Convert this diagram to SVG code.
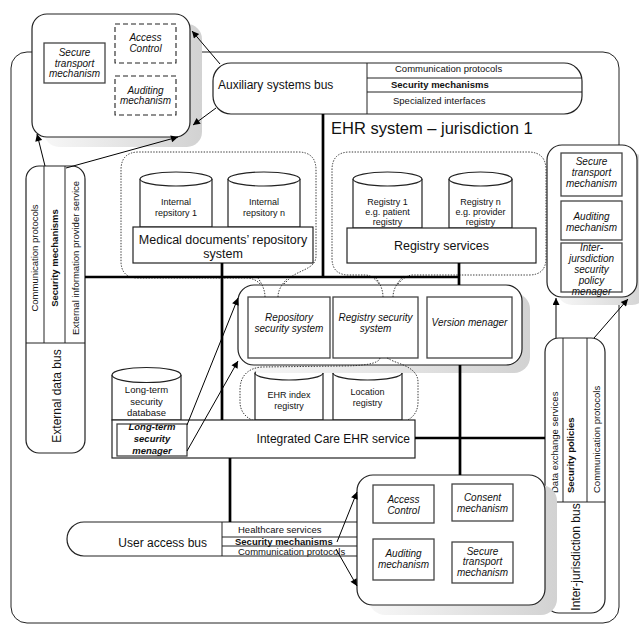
<svg xmlns="http://www.w3.org/2000/svg" width="639" height="626" viewBox="0 0 639 626">
<style>
.f{font-family:"Liberation Sans",Arial,sans-serif;fill:#111}
.s{font-size:9.5px}
.c{font-size:9px}
.m{font-size:12px}
.i{font-style:italic;font-size:10px}
.bd{font-weight:bold}
.mid{text-anchor:middle}
.box{fill:#fff;stroke:#222;stroke-width:1.2}
.ibox{fill:#fff;stroke:#444;stroke-width:1.3}
.dash{fill:#fff;stroke:#222;stroke-width:1.1;stroke-dasharray:5 3}
.ln{fill:none;stroke:#222;stroke-width:1}
.dot{fill:none;stroke:#222;stroke-width:0.9;stroke-dasharray:1.4 1.4}
.thick{fill:none;stroke:#000;stroke-width:2.7}
.arr{fill:none;stroke:#000;stroke-width:1;marker-end:url(#ah)}
.sh{fill:url(#shg)}
</style>
<defs>
<linearGradient id="shg" x1="0" y1="0" x2="1" y2="0">
<stop offset="0" stop-color="#f7f7f7"/><stop offset="1" stop-color="#d2d2d2"/>
</linearGradient>
<marker id="ah" viewBox="0 0 10 10" refX="10" refY="5" markerWidth="9" markerHeight="7" markerUnits="userSpaceOnUse" orient="auto">
<path d="M0,0 L10,5 L0,10 z" fill="#000"/>
</marker>
</defs>
<rect width="639" height="626" fill="#fff"/>

<g id="ehr-system-frame">
<rect x="11" y="52" width="608" height="571" rx="16" class="ln" stroke-width="1.2"/>
<text x="331" y="134" class="f" font-size="16.5px">EHR system – jurisdiction 1</text>
</g>

<g id="aux-security-box">
<rect x="44" y="24" width="158" height="123" rx="15" class="sh"/>
<rect x="32" y="14" width="158" height="123" rx="15" class="box"/>
<rect x="44" y="43" width="61" height="40" class="ibox" stroke="#666"/>
<text class="f i mid" x="74.5" y="56">Secure</text>
<text class="f i mid" x="74.5" y="66.5">transport</text>
<text class="f i mid" x="74.5" y="77">mechanism</text>
<rect x="115" y="24" width="61" height="39" class="dash"/>
<text class="f i mid" x="145.5" y="41">Access</text>
<text class="f i mid" x="145.5" y="52">Control</text>
<rect x="115" y="76" width="61" height="39" class="dash"/>
<text class="f i mid" x="145.5" y="93.5">Auditing</text>
<text class="f i mid" x="145.5" y="104">mechanism</text>
</g>

<g id="auxiliary-systems-bus">
<rect x="213" y="63" width="369" height="51" rx="18" class="box"/>
<path d="M367,63 V114 M367,78 H582 M367,92 H582" class="ln"/>
<text class="f m" x="218" y="88.5">Auxiliary systems bus</text>
<text class="f s" x="395" y="71.5">Communication protocols</text>
<text class="f s bd" x="391" y="87.5">Security mechanisms</text>
<text class="f s" x="393" y="103.5">Specialized interfaces</text>
</g>

<g id="external-data-bus">
<rect x="26" y="166" width="59" height="287" rx="13" class="box"/>
<path d="M44,166 V343 M65,166 V343 M26,343 H85" class="ln"/>
<text class="f s mid" transform="translate(38,258) rotate(-90)">Communication protocols</text>
<text class="f s bd mid" transform="translate(58,258) rotate(-90)">Security mechanisms</text>
<text class="f s mid" transform="translate(79,258) rotate(-90)">External information provider service</text>
<text class="f mid m" transform="translate(61,396) rotate(-90)">External data bus</text>
</g>

<g id="medical-repository">
<path class="dot" d="M265,297 C265,287 258,279 248,278 L138,278 Q121,278 121,261 L121,170 Q121,152 139,152 L298,152 Q316,152 316,170 L316,256 C316,270 296,270 288,280 C282,286 278,290 278,297"/>
<path class="box" d="M140,179 V227 H212 V179"/>
<ellipse cx="176" cy="179" rx="36" ry="7" class="box"/>
<text class="f c mid" x="176" y="205">Internal</text>
<text class="f c mid" x="176" y="215.5">repsitory 1</text>
<path class="box" d="M228,179 V227 H300 V179"/>
<ellipse cx="264" cy="179" rx="36" ry="7" class="box"/>
<text class="f c mid" x="264" y="205">Internal</text>
<text class="f c mid" x="264" y="215.5">repsitory n</text>
<rect x="133" y="227" width="180" height="36" class="box"/>
<text class="f mid" font-size="12.5px" x="223" y="243.5">Medical documents’ repository</text>
<text class="f mid" font-size="12.5px" x="223" y="258">system</text>
</g>

<g id="registry-services">
<path class="dot" d="M383,297 C383,288 376,276 366,275 L349,275 Q332,275 332,258 L332,170 Q332,152 350,152 L528,152 Q546,152 546,170 L546,258 Q546,275 529,275 L412,275 C403,276 394,286 393,297"/>
<path class="box" d="M353,179 V228 H422 V179"/>
<ellipse cx="387.5" cy="179" rx="34.5" ry="7" class="box"/>
<text class="f c mid" x="387.5" y="205">Registry 1</text>
<text class="f c mid" x="387.5" y="215">e.g. patient</text>
<text class="f c mid" x="387.5" y="225">registry</text>
<path class="box" d="M449,179 V228 H512 V179"/>
<ellipse cx="480.5" cy="179" rx="31.5" ry="7" class="box"/>
<text class="f c mid" x="480.5" y="205">Registry n</text>
<text class="f c mid" x="480.5" y="215">e.g. provider</text>
<text class="f c mid" x="480.5" y="225">registry</text>
<rect x="347" y="228" width="189" height="35" class="box"/>
<text class="f mid" font-size="12.5px" x="441.5" y="250">Registry services</text>
</g>

<g id="index-registries">
<path class="box" d="M255,373 V420 H323 V373"/>
<ellipse cx="289" cy="373" rx="34" ry="7" class="box"/>
<text class="f c mid" x="289" y="398">EHR index</text>
<text class="f c mid" x="289" y="409">registry</text>
<path class="box" d="M333,373 V420 H402 V373"/>
<ellipse cx="367.5" cy="373" rx="34.5" ry="7" class="box"/>
<text class="f c mid" x="367.5" y="395">Location</text>
<text class="f c mid" x="367.5" y="406">registry</text>
</g>

<g id="security-systems">
<rect x="246" y="293" width="284" height="80" rx="16" class="sh"/>
<rect x="238" y="285" width="284" height="80" rx="16" class="box"/>
<rect x="248" y="297" width="82" height="61" class="ibox"/>
<text class="f i mid" x="289" y="321">Repository</text>
<text class="f i mid" x="289" y="332">security system</text>
<rect x="333" y="297" width="85" height="61" class="ibox"/>
<text class="f i mid" x="375.5" y="321">Registry security</text>
<text class="f i mid" x="375.5" y="332">system</text>
<rect x="427" y="297" width="85" height="61" class="ibox"/>
<text class="f i mid" x="469.5" y="325.5">Version menager</text>
<path class="dot" d="M265,297 C265,290 262,284 258,278 M278,297 C278,290 282,284 287,279 M383,297 C383,290 380,282 374,276 M393,297 C393,290 397,282 404,276"/>
</g>

<g id="index-region">
<path class="dot" d="M380,358 C379,364 362,366 340,366 L262,367 C248,368 240,376 240,390 L240,402 C240,414 250,422 262,422 L398,422 C410,422 418,414 418,402 L418,382 C418,368 400,364 393,361 C389,359 387,358 387,358"/>
</g>

<g id="integrated-care-ehr-service">
<path class="box" d="M112,375 V420 H181 V375"/>
<ellipse cx="146.5" cy="375" rx="34.5" ry="7.5" class="box"/>
<text class="f s mid" x="146.5" y="393">Long-term</text>
<text class="f s mid" x="146.5" y="405">security</text>
<text class="f s mid" x="146.5" y="416">database</text>
<rect x="112" y="420" width="303" height="38" class="box"/>
<rect x="117" y="424" width="70" height="32" class="ibox"/>
<text class="f s bd mid" font-style="italic" x="152" y="430">Long-term</text>
<text class="f s bd mid" font-style="italic" x="152" y="442">security</text>
<text class="f s bd mid" font-style="italic" x="152" y="453.5">menager</text>
<text class="f m" text-anchor="end" x="410" y="443">Integrated Care EHR service</text>
</g>

<g id="inter-jurisdiction-box">
<rect x="557" y="153" width="90" height="152" rx="15" class="sh"/>
<rect x="547" y="145" width="90" height="152" rx="15" class="box"/>
<rect x="561" y="153" width="61" height="43" class="ibox"/>
<text class="f i mid" x="591.5" y="164.5">Secure</text>
<text class="f i mid" x="591.5" y="175.5">transport</text>
<text class="f i mid" x="591.5" y="186.5">mechanism</text>
<rect x="561" y="201" width="61" height="39" class="ibox"/>
<text class="f i mid" x="591.5" y="219.5">Auditing</text>
<text class="f i mid" x="591.5" y="230.5">mechanism</text>
<rect x="561" y="243" width="61" height="49" class="ibox"/>
<text class="f i mid" x="591.5" y="251">Inter-</text>
<text class="f i mid" x="591.5" y="262">jursdiction</text>
<text class="f i mid" x="591.5" y="273">security</text>
<text class="f i mid" x="591.5" y="284">policy</text>
<text class="f i mid" x="591.5" y="295">menager</text>
</g>

<g id="inter-jurisdiction-bus">
<rect x="545" y="338" width="60" height="275" rx="14" class="box"/>
<path d="M563,338 V502 M587,338 V502 M545,502 H605" class="ln"/>
<text class="f s" transform="translate(557.5,493) rotate(-90)">Data exchange services</text>
<text class="f s bd" transform="translate(574,493) rotate(-90)">Security policies</text>
<text class="f s" transform="translate(600,493) rotate(-90)">Communication protocols</text>
<text class="f mid m" transform="translate(580,557) rotate(-90)">Inter-jurisdiction bus</text>
</g>

<g id="user-access-bus">
<path class="box" d="M357,522 H84 A17,17 0 0 0 84,556 H357"/>
<path d="M222,522 V556 M222,537 H357 M222,546 H357" class="ln"/>
<text class="f m" text-anchor="end" x="207" y="547">User access bus</text>
<text class="f s" x="238" y="533">Healthcare services</text>
<text class="f s bd" x="235" y="545">Security mechanisms</text>
<text class="f s" x="238" y="554.5">Communication protocols</text>
</g>

<g id="user-security-box">
<rect x="369" y="485" width="188" height="130" rx="16" class="sh"/>
<rect x="357" y="475" width="188" height="130" rx="16" class="box"/>
<rect x="373" y="485" width="61" height="38" class="ibox"/>
<text class="f i mid" x="403.5" y="502.5">Access</text>
<text class="f i mid" x="403.5" y="513.5">Control</text>
<rect x="452" y="484" width="61" height="37" class="ibox"/>
<text class="f i mid" x="482.5" y="500.5">Consent</text>
<text class="f i mid" x="482.5" y="511.5">mechanism</text>
<rect x="373" y="539" width="61" height="41" class="ibox"/>
<text class="f i mid" x="403.5" y="556.5">Auditing</text>
<text class="f i mid" x="403.5" y="567.5">mechanism</text>
<rect x="452" y="542" width="61" height="41" class="ibox"/>
<text class="f i mid" x="482.5" y="554.5">Secure</text>
<text class="f i mid" x="482.5" y="565">transport</text>
<text class="f i mid" x="482.5" y="575.5">mechanism</text>
</g>

<g id="connectors">
<path class="thick" d="M323,114 V277 M85,277 H460 M222,263 V420 M459,263 V285 M460,365 V475 M415,438 H545 M230,458 V522"/>
<path class="arr" d="M220,64 L192,31"/>
<path class="arr" d="M216,108 L193,125"/>
<path class="arr" d="M66,168 L178,137"/>
<path class="arr" d="M45,166 L37,134"/>
<path class="arr" d="M187,425 L238,298"/>
<path class="arr" d="M187,451 L238,361"/>
<path class="arr" d="M556,338 L556,298"/>
<path class="arr" d="M594,338 L628,299"/>
<path class="arr" d="M337,542 L357,492"/>
<path class="arr" d="M336,549 L357,586"/>
</g>
</svg>
